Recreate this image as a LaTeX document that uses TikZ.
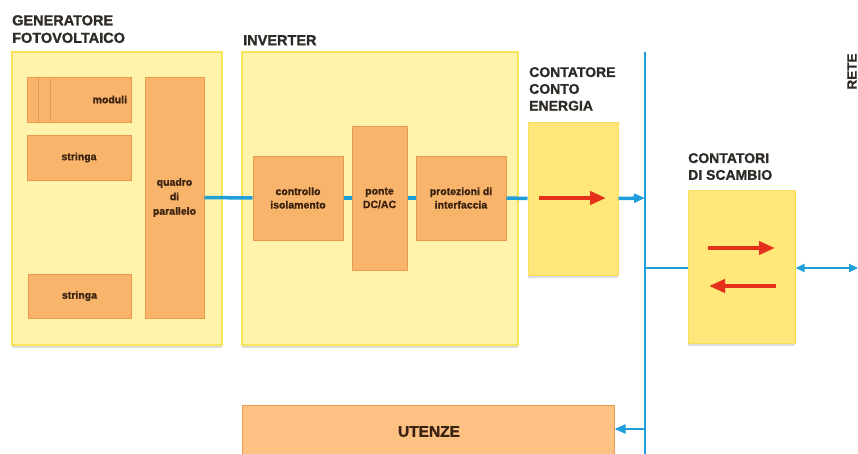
\documentclass[tikz,border=0pt]{standalone}
\usepackage{fontspec}
\setmainfont{Liberation Sans}[BoldFont={Liberation Sans Bold}]
\newfontfamily\headfont{Liberation Sans Bold}[FakeBold=1.2]
\usetikzlibrary{arrows.meta,shadows}
\definecolor{paleY}{HTML}{FFF2AA}
\definecolor{paleYb}{HTML}{F8E35A}
\definecolor{brightY}{HTML}{FFE77A}
\definecolor{brightYb}{HTML}{FBDD5C}
\definecolor{orF}{HTML}{F9B46C}
\definecolor{orB}{HTML}{E89A4E}
\definecolor{orL}{HTML}{FDC184}
\definecolor{blueL}{HTML}{1E9FD9}
\definecolor{redA}{HTML}{E5301C}
\definecolor{txt}{HTML}{2E2A26}
\definecolor{txtb}{HTML}{3A2210}
\tikzset{
  shad/.style={drop shadow={shadow xshift=0pt,shadow yshift=-3pt,opacity=.22,fill=black!60}},
  outerbox/.style={rectangle,fill=paleY,draw=paleYb,line width=2pt,shad,inner sep=0pt},
  meterbox/.style={rectangle,fill=brightY,draw=brightYb,line width=1pt,shad,inner sep=0pt},
  obox/.style={rectangle,fill=orF,draw=orB,line width=1pt,inner sep=2pt,align=center,
    font=\headfont\fontsize{10.5}{13.5}\selectfont,text=txtb},
  heading/.style={font=\headfont\fontsize{14.5}{17.5}\selectfont,text=txt,align=left,inner sep=0pt},
  conn/.style={draw=blueL,line width=3.5pt},
  thin/.style={draw=blueL,line width=2.2pt},
  btip/.style={-{Triangle[length=11pt,width=9pt]}},
  redarrow/.style={draw=redA,line width=4pt,-{Triangle[length=16pt,width=13pt]}},
  stripe/.style={draw=orB,line width=1.2pt}
}
\begin{document}
\begin{tikzpicture}[x=1pt,y=-1pt]
\useasboundingbox (0,0) rectangle (858,453);
\begin{scope}
\clip (0,0) rectangle (858,453);
% outer boxes
\node[outerbox,minimum width=210,minimum height=293] (gen) at (117,198.5) {};
\node[outerbox,minimum width=276,minimum height=293] (inv) at (380,198.5) {};
\node[meterbox,minimum width=90,minimum height=153] (cce) at (573,198.5) {};
\node[meterbox,minimum width=107,minimum height=153] (cds) at (741.5,266.5) {};
\node[obox,fill=orL,shad,minimum width=372,minimum height=64] (ute) at (428,437) {};
\node[font=\headfont\fontsize{15.5}{17}\selectfont,text=txtb] (utet) at (429,431.5) {UTENZE};
% headings
\node[heading,anchor=north west] (hgen) at (12,15) {GENERATORE\\FOTOVOLTAICO};
\node[heading,anchor=north west] (hinv) at (243,35) {INVERTER};
\node[heading,anchor=north west,font=\headfont\fontsize{14}{16.8}\selectfont] (hcce) at (529,67) {CONTATORE\\CONTO\\ENERGIA};
\node[heading,anchor=north west,font=\headfont\fontsize{14}{16.8}\selectfont] (hcds) at (688,153) {CONTATORI\\DI SCAMBIO};
\node[heading,rotate=90,font=\headfont\fontsize{13.5}{16}\selectfont] (rete) at (852,71.5) {RETE};
% generator internals
\node[obox,minimum height=45,text width=96pt,inner xsep=4pt,align=right] (mod) at (79,99.5) {moduli};
\draw[stripe] ([xshift=12pt]mod.north west) -- ([xshift=12pt]mod.south west);
\draw[stripe] ([xshift=24pt]mod.north west) -- ([xshift=24pt]mod.south west);
\node[obox,minimum width=104,minimum height=45] (str1) at (79,157.5) {stringa};
\node[obox,minimum width=103,minimum height=44] (str2) at (79.5,296) {stringa};
\node[obox,minimum width=59,minimum height=241,font=\headfont\fontsize{10.5}{14.5}\selectfont] (qp) at (174.5,197.5) {quadro\\di\\parallelo};
% inverter internals
\node[obox,minimum width=90,minimum height=84] (ci) at (298,198) {controllo\\isolamento};
\node[obox,minimum width=55,minimum height=144] (pdc) at (379.5,198) {ponte\\DC/AC};
\node[obox,minimum width=90,minimum height=84] (pi) at (461,198) {protezioni di\\interfaccia};
\end{scope}
% bus and connectors
\coordinate (bustop) at (645,52);
\coordinate (busbot) at (645,455);
\coordinate (busA) at (645,198);
\coordinate (busB) at (645,268);
\coordinate (busC) at (645,429);
\coordinate (reteEnd) at (858,268);
\draw[thin] (bustop) -- (busbot);
\draw[conn] (qp.east) -- (ci.west);
\draw[conn] (ci.east) -- (pdc.west);
\draw[conn] (pdc.east) -- (pi.west);
\draw[conn] (pi.east) -- (cce.west);
\draw[conn,btip] (cce.east) -- (busA);
\draw[thin] (busB) -- (cds.west |- busB);
\draw[thin,{Triangle[length=9pt,width=8pt]}-{Triangle[length=9pt,width=8pt]}] (cds.east |- busB) -- (reteEnd);
\draw[thin,btip] (busC) -- (ute.east |- busC);
% red arrows
\coordinate (r1a) at (539,198); \coordinate (r1b) at (606,198);
\coordinate (r2a) at (708,248); \coordinate (r2b) at (775,248);
\coordinate (r3a) at (776,286); \coordinate (r3b) at (709,286);
\draw[redarrow] (r1a) -- (r1b);
\draw[redarrow] (r2a) -- (r2b);
\draw[redarrow] (r3a) -- (r3b);
\end{tikzpicture}
\end{document}
